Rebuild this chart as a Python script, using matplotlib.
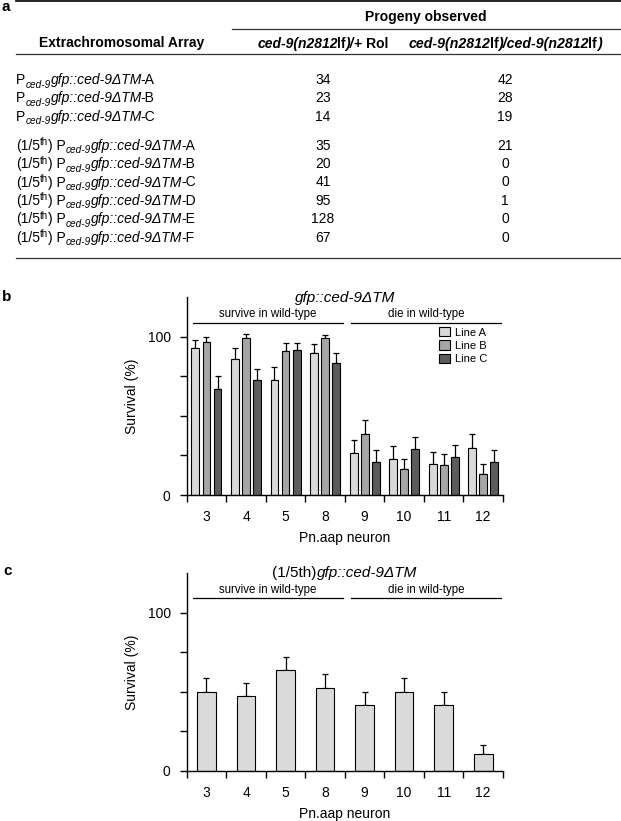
import matplotlib
matplotlib.use('Agg')
import matplotlib.pyplot as plt
from matplotlib.lines import Line2D
import numpy as np

plt.rcParams['font.family'] = ['Liberation Sans', 'DejaVu Sans']

W, H, DPI = 621, 821, 100

# ---------------- data: table (panel a) ----------------
array_suffix = ['A', 'B', 'C', 'A', 'B', 'C', 'D', 'E', 'F']
array_diluted = [False, False, False, True, True, True, True, True, True]
rol_counts = [34, 23, 14, 35, 20, 41, 95, 128, 67]
homo_counts = [42, 28, 19, 21, 0, 0, 1, 0, 0]

# ---------------- data: panel b ----------------
neurons = ['3', '4', '5', '8', '9', '10', '11', '12']
line_names = ['Line A', 'Line B', 'Line C']
line_a = [93, 86.3, 73, 89.7, 26.3, 23, 19.4, 29.5]
line_b = [96.8, 99.6, 91.4, 99.6, 38.3, 16.2, 19.2, 13.5]
line_c = [67.2, 72.6, 91.8, 83.6, 21, 29.3, 23.8, 21]
err_a = [4.8, 6.7, 8.0, 5.9, 8.4, 8.0, 7.8, 8.8]
err_b = [3.2, 2.1, 4.8, 1.4, 8.9, 6.8, 6.9, 5.9]
err_c = [8.0, 7.4, 4.4, 6.3, 7.4, 7.7, 7.6, 7.4]

# ---------------- data: panel c ----------------
dil_vals = [49.6, 47, 63.7, 52.5, 41.4, 49.6, 41.4, 10.5]
dil_err = [8.8, 8.7, 8.5, 8.7, 8.6, 8.8, 8.6, 6.0]

group_names = ['survive in wild-type', 'die in wild-type']

colors = ['#d9d9d9', '#a6a6a6', '#5c5c5c']
dil_color = '#dadada'

fig = plt.figure(figsize=(W / DPI, H / DPI), dpi=DPI)
renderer = fig.canvas.get_renderer()


def fx(x):
    return x / W


def fy(y):
    return 1 - y / H


def seg_text(x, y, segs, ha='left', size=10.0):
    """segs: (text, style, weight, scale, dy_px[, dx_px]); y = baseline px from top"""
    items = []
    total = 0.0
    for sg in segs:
        s, style, weight, scale, dy = sg[:5]
        dx = sg[5] if len(sg) > 5 else 0.0
        t = fig.text(0, 0, s, fontsize=size * scale, fontstyle=style,
                     fontweight=weight, va='baseline', ha='left')
        w = t.get_window_extent(renderer).width
        items.append((t, dy, dx, w))
        total += w + dx
    x0 = x - total / 2 if ha == 'center' else x
    cx = x0
    for t, dy, dx, w in items:
        cx += dx
        t.set_position((fx(cx), fy(y + dy)))
        cx += w


def hline(x0, x1, y, lw=0.9, color='#333333'):
    fig.add_artist(Line2D([fx(x0), fx(x1)], [fy(y), fy(y)], lw=lw, color=color))


# ---------------- panel a: table ----------------
fig.text(fx(1), fy(0), 'a', fontsize=11, fontweight='bold', va='top', ha='left')
hline(16, W, 1, lw=1.3, color='#111111')
fig.text(fx(426), fy(17), 'Progeny observed', fontsize=10, fontweight='bold',
         ha='center', va='center')
hline(232, W, 29)
fig.text(fx(122), fy(43), 'Extrachromosomal Array', fontsize=10, fontweight='bold',
         ha='center', va='center')
seg_text(323, 48, [('ced-9(n2812', 'italic', 'bold', 1, 0),
                   ('lf', 'normal', 'bold', 1, 0, -0.8),
                   (')/', 'italic', 'bold', 1, 0),
                   ('+ Rol', 'normal', 'bold', 1, 0)], ha='center')
seg_text(505, 48, [('ced-9(n2812', 'italic', 'bold', 1, 0),
                   ('lf', 'normal', 'bold', 1, 0, -0.8),
                   (')/ced-9(n2812', 'italic', 'bold', 1, 0),
                   ('lf', 'normal', 'bold', 1, 0, -0.8),
                   (')', 'italic', 'bold', 1, 0)], ha='center', size=10.2)
hline(16, W, 54)

for i, (suf, dil, r, h) in enumerate(zip(array_suffix, array_diluted, rol_counts, homo_counts)):
    yc = 79 + 18.4 * i + (10.5 if i >= 3 else 0)
    yb = yc + 5
    segs = []
    if dil:
        segs += [('(1/5', 'normal', 'normal', 1, 0),
                 ('th', 'normal', 'normal', 0.7, -4.5),
                 (') P', 'normal', 'normal', 1, 0)]
    else:
        segs += [('P', 'normal', 'normal', 1, 0)]
    segs += [('ced-9', 'italic', 'normal', 0.72, 3.5),
             ('gfp::ced-9\u0394TM', 'italic', 'normal', 1, 0),
             ('-' + suf, 'normal', 'normal', 1, 0, -1.5)]
    seg_text(16, yb, segs)
    fig.text(fx(323), fy(yb), str(r), fontsize=10, ha='center', va='baseline')
    fig.text(fx(505), fy(yb), str(h), fontsize=10, ha='center', va='baseline')

hline(16, W, 258)


# ---------------- chart helpers ----------------
def style_axes(ax):
    for s in ['top', 'right']:
        ax.spines[s].set_visible(False)
    for s in ['left', 'bottom']:
        ax.spines[s].set_linewidth(1.0)
    ax.set_xlim(0, 8)
    ax.set_ylim(0, 125)
    ax.set_xticks(np.arange(9))
    ax.set_xticklabels([])
    ax.set_xticks(np.arange(8) + 0.5, minor=True)
    ax.set_xticklabels(neurons, minor=True, fontsize=10)
    ax.tick_params(axis='x', which='minor', length=0, pad=11)
    ax.tick_params(axis='x', which='major', length=5, width=1.0, direction='out')
    ax.set_yticks([0, 100])
    ax.set_yticklabels(['0', '100'], fontsize=10)
    ax.set_yticks([25, 50, 75], minor=True)
    ax.tick_params(axis='y', which='both', length=5, width=1.0, direction='out', pad=6.5)
    ax.set_ylabel('Survival (%)', fontsize=10)
    ax.yaxis.label.set_va('center')
    ax.yaxis.set_label_coords(-0.173, 0.5)
    ax.set_xlabel('Pn.aap neuron', fontsize=10)
    ax.xaxis.label.set_va('center')
    ax.xaxis.set_label_coords(0.5, -0.22)
    # group brackets
    for (x0, x1), name in zip([(0.15, 3.95), (4.15, 7.95)], group_names):
        ax.plot([x0, x1], [109, 109], color='k', lw=0.9, clip_on=False)
        ax.text((x0 + x1) / 2, 114.5, name, fontsize=8.3, ha='center', va='center')


ax_left = 186.7
ax_w = 503 - 186.7
ax_h = 197.5

# ---------------- panel b ----------------
ax_b = fig.add_axes([fx(ax_left), fy(495), ax_w / W, ax_h / H])
xc = np.arange(len(neurons)) + 0.5
handles = []
for k, (vals, errs) in enumerate(zip([line_a, line_b, line_c], [err_a, err_b, err_c])):
    pos = xc + (k - 1) * 0.28
    b = ax_b.bar(pos, vals, width=0.2, color=colors[k], edgecolor='k', linewidth=0.8,
                 label=line_names[k], zorder=2)
    ax_b.errorbar(pos, vals, yerr=[np.zeros(len(errs)), errs], fmt='none', ecolor='k',
                  elinewidth=0.9, capsize=2, capthick=0.9, zorder=1)
    handles.append(b)
style_axes(ax_b)
ax_b.legend(handles=handles, loc='upper left', bbox_to_anchor=(0.797, 0.85),
            frameon=False, fontsize=8, handlelength=1.0, handleheight=0.9,
            handletextpad=0.45, labelspacing=0.25, borderpad=0, borderaxespad=0)
seg_text(ax_left + ax_w / 2, 302, [('gfp::ced-9\u0394TM', 'italic', 'normal', 1, 0)],
         ha='center', size=11)
fig.text(fx(2), fy(297), 'b', fontsize=11, fontweight='bold', va='center', ha='left')

# ---------------- panel c ----------------
ax_c = fig.add_axes([fx(ax_left), fy(770.7), ax_w / W, ax_h / H])
ax_c.bar(xc, dil_vals, width=0.47, color=dil_color, edgecolor='k', linewidth=0.8, zorder=2)
ax_c.errorbar(xc, dil_vals, yerr=[np.zeros(len(dil_err)), dil_err], fmt='none', ecolor='k',
              elinewidth=0.9, capsize=2, capthick=0.9, zorder=1)
style_axes(ax_c)
seg_text(ax_left + ax_w / 2, 577, [('(1/5th)', 'normal', 'normal', 1, 0),
                                   ('gfp::ced-9\u0394TM', 'italic', 'normal', 1, 0)],
         ha='center', size=11)
fig.text(fx(3), fy(571), 'c', fontsize=11, fontweight='bold', va='center', ha='left')

fig.savefig('out.png', dpi=DPI)
